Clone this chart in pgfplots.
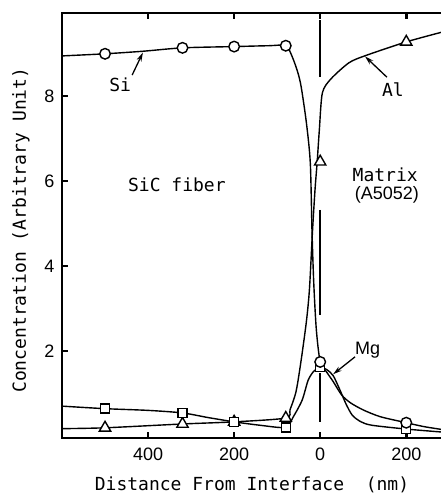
\documentclass[border=0pt]{standalone}
\usepackage{pgfplots}
\pgfplotsset{compat=1.18}
\usepackage{fontspec}
\setmainfont{Liberation Sans}
\newfontfamily\mono{DejaVu Sans Mono}
\usetikzlibrary{arrows.meta}

\begin{document}
\begin{tikzpicture}
\begin{axis}[
  scale only axis, width=380pt, height=425pt,
  xmin=-600, xmax=283, ymin=-0.05, ymax=9.95,
  xtick={-400,-200,0,200}, xticklabels={400,200,0,200},
  ytick={2,4,6,8}, ytick pos=left,
  tick align=inside, major tick length=6pt,
  every tick/.style={line width=2.5pt, black},
  axis line style={line width=2.5pt},
  tick label style={font=\fontsize{18}{18}\selectfont},
  xticklabel style={yshift=-6pt},
  yticklabel style={xshift=-4pt},
  /pgf/number format/assume math mode=true,
  xlabel={Distance From Interface\ \ (nm)},
  ylabel={Concentration (Arbitrary Unit)},
  xlabel style={at={(axis description cs:0.5,-0.1224)}, anchor=base, font=\mono\fontsize{18}{18}\selectfont},
  ylabel style={at={(axis description cs:-0.108,0.489)}, anchor=center, font=\mono\fontsize{18}{18}\selectfont},
  every axis plot/.append style={line width=1.4pt, black},
]
\coordinate (sw) at (rel axis cs:0,0);
\coordinate (ne) at (rel axis cs:1,1);

% interface line segments
\addplot[line width=1.5pt] coordinates {(0,9.79) (0,8.45)};
\addplot[line width=1.5pt] coordinates {(0,5.32) (0,2.85)};
\addplot[line width=1.5pt] coordinates {(0,1.48) (0,0.33)};

% Si
\addplot[smooth, tension=0.45] coordinates {
(-600,8.94) (-500,8.99) (-412,9.05) (-320,9.13) (-200,9.16) (-120,9.18) (-80,9.18)
(-65,8.92) (-52,8.55) (-44,8.2) (-32,7.36) (-23,6.42) (-19,4.8) (-15,3.6) (-9,2.5) (0,1.74)
(15,1.5) (30,1.28) (50,0.96) (70,0.78) (100,0.61) (140,0.45) (200,0.31) (240,0.22) (283,0.15)};
% Al
\addplot[smooth, tension=0.45] coordinates {
(-600,0.17) (-500,0.19) (-320,0.28) (-200,0.33) (-80,0.42) (-70,0.62) (-56,1.05) (-44,1.8)
(-32,2.7) (-25,3.45) (-18,4.8) (-12,5.8) (-7,6.45) (-2,7.2) (5,8.07) (25,8.4) (67,8.78)
(106,8.95) (200,9.27) (283,9.5)};
% Mg
\addplot[smooth, tension=0.45] coordinates {
(-600,0.7) (-500,0.64) (-400,0.6) (-320,0.54) (-260,0.43) (-200,0.33) (-140,0.25) (-80,0.2)
(-63,0.44) (-42,0.84) (-28,1.31) (-15,1.52) (0,1.62) (15,1.56) (30,1.42) (45,1.1) (60,0.75)
(75,0.48) (95,0.33) (120,0.25) (200,0.16) (283,0.09)};

% marks
\addplot[only marks, mark=triangle*, mark size=6.5pt, mark options={fill=white, line width=1.4pt}] coordinates {
(-500,0.19) (-320,0.28) (-200,0.33) (-80,0.42) (0,6.45) (200,9.27)};
\addplot[only marks, mark=square*, mark size=4.5pt, mark options={fill=white, line width=1.4pt}] coordinates {
(-500,0.64) (-320,0.54) (-200,0.33) (-80,0.2) (0,1.62) (200,0.16)};
\addplot[only marks, mark=*, mark size=5.3pt, mark options={fill=white, line width=1.4pt}] coordinates {
(-500,8.99) (-320,9.13) (-200,9.16) (-80,9.18) (0,1.74) (200,0.31)};

% annotations
\node[font=\mono\fontsize{18}{18}\selectfont] at (axis cs:-465,8.26) {Si};
\draw[line width=1.3pt, -{Stealth[length=9pt,width=5pt]}] (axis cs:-437,8.49) -- (axis cs:-412,9.02);
\node[font=\mono\fontsize{18}{18}\selectfont] at (axis cs:169,8.14) {Al};
\draw[line width=1.3pt, -{Stealth[length=9pt,width=5pt]}] (axis cs:155,8.44) -- (axis cs:104,8.93);
\node[font=\fontsize{18}{18}\selectfont] at (axis cs:110,2.02) {Mg};
\draw[line width=1.3pt, -{Stealth[length=9pt,width=5pt]}] (axis cs:81,1.86) -- (axis cs:30,1.45);
\node[font=\mono\fontsize{18}{18}\selectfont] at (axis cs:-333,5.9) {SiC fiber};
\node[font=\mono\fontsize{18}{18}\selectfont] at (axis cs:151,6.14) {Matrix};
\node[font=\fontsize{18}{18}\selectfont] at (axis cs:155,5.67) {(A5052)};
\end{axis}
\pgfresetboundingbox
\path ([shift={(-62pt,-56pt)}]sw) rectangle ([shift={(-1.5pt,13pt)}]ne);
\end{tikzpicture}
\end{document}
